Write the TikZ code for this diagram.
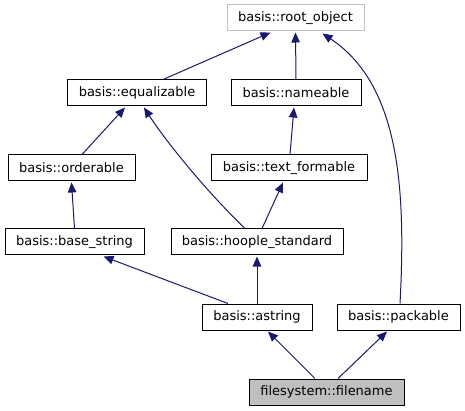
\documentclass[tikz,border=0pt]{standalone}
\usepackage{fontspec}
\setmainfont{DejaVu Sans}
\usepackage{tikz}
\usetikzlibrary{arrows.meta, calc}

\definecolor{edgeblue}{RGB}{25,25,112}
\definecolor{rootgray}{RGB}{191,191,191}

\begin{document}
\begin{tikzpicture}[x=1pt, y=-1pt,
        cls/.style={draw=black, line width=1pt, rectangle, minimum height=26pt,
            inner sep=0pt, font=\fontsize{13}{15}\selectfont},
        inherit/.style={draw=edgeblue, line width=1pt,
            -{Triangle[length=10pt, width=8.5pt]}}]
        \useasboundingbox (0,0) rectangle (465,411);

        % Draw the class boxes
        \node[cls, draw=rootgray, minimum width=137pt] (root) at (295.5,18) {basis::root\_object};
        \node[cls, minimum width=139pt] (equal) at (137,93) {basis::equalizable};
        \node[cls, minimum width=130pt] (name) at (296,93) {basis::nameable};
        \node[cls, minimum width=127pt] (order) at (71.5,168) {basis::orderable};
        \node[cls, minimum width=156pt] (textform) at (289,168) {basis::text\_formable};
        \node[cls, minimum width=139pt] (basestr) at (74.5,242) {basis::base\_string};
        \node[cls, minimum width=172pt] (hoople) at (257,242) {basis::hoople\_standard};
        \node[cls, minimum width=110pt] (astring) at (257,317) {basis::astring};
        \node[cls, minimum width=123pt] (pack) at (398.5,317) {basis::packable};
        \node[cls, fill=rootgray, minimum width=155pt] (fname) at (326.5,392) {filesystem::filename};

        % Draw arrows up to root_object
        \draw[inherit] ($(equal.north)+(26,0)$) -- ($(root.south)+(-25,1)$);
        \draw[inherit] (name.north) -- ($(root.south)+(0,1)$);
        \draw[inherit] ($(pack.north)+(1.5,0)$) .. controls (406,190) and (400,85) .. ($(root.south)+(27,2)$);

        % Draw arrows up to equalizable and nameable
        \draw[inherit] ($(order.north)+(10.5,0)$) -- ($(equal.south)+(-12,1)$);
        \draw[inherit] ($(hoople.north)+(-12,0)$) .. controls (205,190) and (165,140) .. ($(equal.south)+(7,1)$);
        \draw[inherit] ($(textform.north)+(1,0)$) -- ($(name.south)+(-2,1)$);

        % Draw arrows up to orderable and text_formable
        \draw[inherit] (basestr.north) -- ($(order.south)+(0,1)$);
        \draw[inherit] ($(hoople.north)+(5,0)$) -- ($(textform.south)+(-6,1)$);

        % Draw arrows up to base_string and hoople_standard
        \draw[inherit] ($(astring.north)+(-29,0)$) -- ($(basestr.south)+(29,1)$);
        \draw[inherit] (astring.north) -- ($(hoople.south)+(0,1)$);

        % Draw arrows from filename
        \draw[inherit] ($(fname.north)+(-11.5,0)$) -- ($(astring.south)+(11,1)$);
        \draw[inherit] ($(fname.north)+(11.5,0)$) -- ($(pack.south)+(-11.5,1)$);
    \end{tikzpicture}
\end{document}
